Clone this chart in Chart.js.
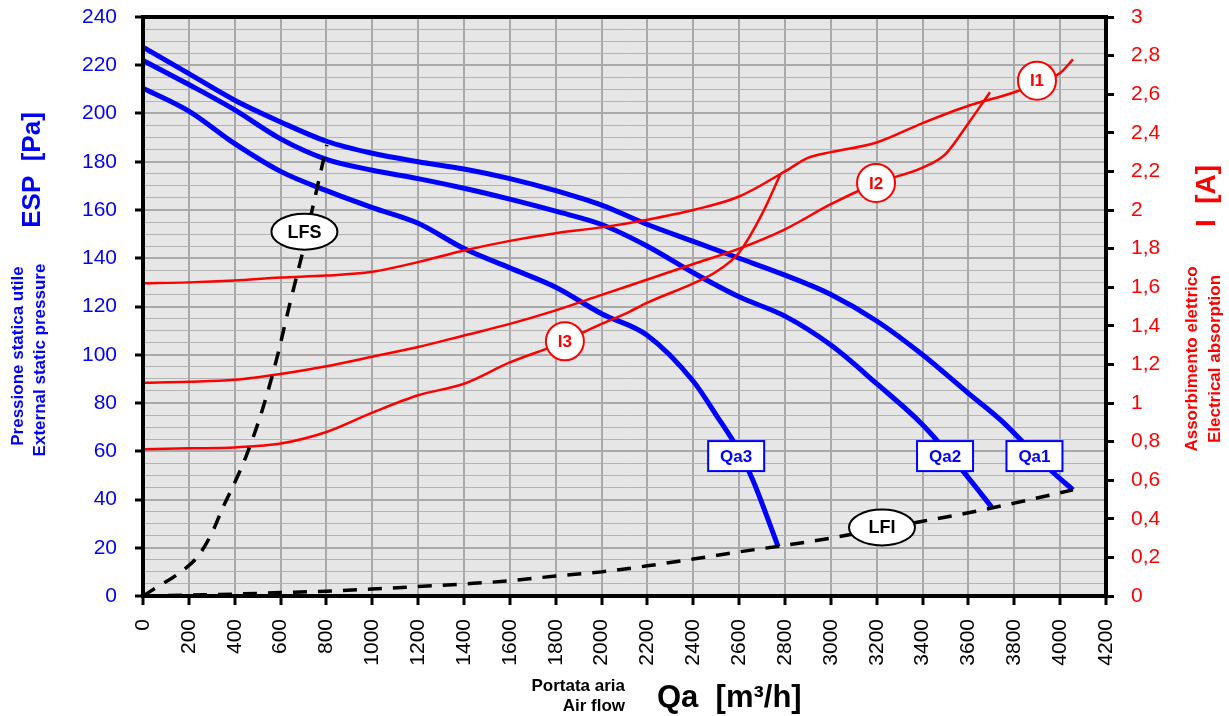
<!DOCTYPE html>
<html>
<head>
<meta charset="utf-8">
<script src="https://cdn.jsdelivr.net/npm/chart.js@4.4.1/dist/chart.umd.min.js"></script>
<style>
  html, body { margin: 0; padding: 0; background: #fff; }
  #wrap { width: 1229px; height: 716px; }
</style>
</head>
<body>
<div id="wrap"><canvas id="fanChart" width="1229" height="716"></canvas></div>
<script>
// Fan curves: air flow Qa [m3/h] vs static pressure ESP [Pa]
var qa1Flow = [0, 200, 400, 600, 800, 1000, 1200, 1400, 1600, 1800, 2000, 2200, 2400, 2600, 2800, 3000, 3200, 3400, 3600, 3740, 3960, 4056];
var qa1Esp  = [227.5, 216.5, 205.5, 196.5, 188.5, 183.5, 180, 177, 173, 168, 162, 154, 147, 140, 133, 125, 114, 100, 84, 73, 52, 44];

var qa2Flow = [0, 200, 400, 600, 800, 1000, 1200, 1400, 1600, 1800, 2000, 2200, 2400, 2600, 2800, 3000, 3200, 3400, 3600, 3703];
var qa2Esp  = [222, 212, 201.5, 189.5, 181, 176.5, 173, 169, 164.5, 159.5, 154, 145, 134, 124, 116, 104, 88, 71, 49, 36.6];

var qa3Flow = [0, 200, 400, 600, 800, 1000, 1200, 1400, 1600, 1800, 2000, 2200, 2400, 2500, 2600, 2660, 2770];
var qa3Esp  = [210.5, 201, 187.5, 176, 168, 161, 154.5, 144, 136, 128, 117, 108, 89, 75, 60, 48, 20.5];

// Electrical absorption I [A] for each speed
var i1Flow = [0, 200, 400, 600, 800, 1000, 1200, 1400, 1600, 1800, 2000, 2200, 2400, 2600, 2800, 2900, 3000, 3200, 3400, 3600, 3800, 4000, 4056];
var i1Amp  = [1.62, 1.625, 1.635, 1.65, 1.66, 1.68, 1.73, 1.79, 1.84, 1.88, 1.91, 1.95, 2.0, 2.07, 2.2, 2.27, 2.3, 2.35, 2.45, 2.54, 2.61, 2.71, 2.78];

var i2Flow = [0, 200, 400, 600, 800, 1000, 1200, 1400, 1600, 1800, 2000, 2200, 2400, 2600, 2800, 3000, 3200, 3400, 3500, 3600, 3694];
var i2Amp  = [1.105, 1.11, 1.12, 1.15, 1.19, 1.24, 1.29, 1.35, 1.41, 1.48, 1.56, 1.64, 1.72, 1.8, 1.9, 2.03, 2.14, 2.22, 2.29, 2.45, 2.61];

var i3Flow = [0, 200, 400, 600, 800, 1000, 1200, 1400, 1600, 1800, 2000, 2100, 2200, 2400, 2500, 2600, 2700, 2778];
var i3Amp  = [0.76, 0.765, 0.77, 0.79, 0.85, 0.95, 1.04, 1.1, 1.21, 1.3, 1.41, 1.46, 1.52, 1.62, 1.68, 1.78, 1.98, 2.18];

// Working limits (dashed)
var lfsFlow = [0, 50, 150, 240, 300, 350, 400, 450, 520, 585, 640, 700, 740, 802];
var lfsEsp  = [0, 3, 9, 16.5, 26, 37, 47, 58, 77, 99, 121, 144, 161, 187];
var lfiFlow = [0, 200, 400, 600, 800, 1000, 1200, 1400, 1600, 1800, 2000, 2200, 2400, 2600, 2800, 3000, 3200, 3400, 3600, 3800, 4056];
var lfiEsp  = [0, 0.4, 0.8, 1.4, 2, 2.9, 3.9, 5, 6.3, 8.3, 10, 12.5, 15.3, 18.3, 21, 24, 27.5, 31, 34.5, 38.5, 44];

// Curve tags
var speedTags = ['Qa1', 'Qa2', 'Qa3'];
var speedTagFlow = [3888, 3498, 2587];
var speedTagEsp = [58, 58, 58];
var ampTags = ['I1', 'I2', 'I3'];
var ampTagFlow = [3899, 3197, 1840];
var ampTagAmp = [2.67, 2.14, 1.32];
var limitTags = ['LFS', 'LFI'];
var limitTagFlow = [704, 3223];
var limitTagEsp = [151, 28.4];

var FONT = "'Liberation Sans', Arial, sans-serif";
var BLUE = '#0000ff';
var RED = '#ff0000';

function toPoints(xs, ys) {
  return xs.map(function (x, i) { return { x: x, y: ys[i] }; });
}

function fmtAmp(v) {
  return Number(v.toFixed(1)).toString().replace('.', ',');
}

// no extra padding from tick labels, the layout is fixed
function fixSize(w, h) {
  return function (s) {
    if (w) s.width = w;
    if (h) s.height = h;
    s.paddingTop = 0;
    s.paddingBottom = 0;
    s.paddingLeft = 0;
    s.paddingRight = 0;
  };
}

// gray plot background
var backgroundPlugin = {
  id: 'plotBackground',
  beforeDraw: function (chart) {
    var a = chart.chartArea, c = chart.ctx;
    c.save();
    c.fillStyle = '#e6e6e6';
    c.fillRect(a.left, a.top, a.right - a.left, a.bottom - a.top);
    c.restore();
  }
};

// black frame + tags on curves
var tagPlugin = {
  id: 'curveTags',
  afterDatasetsDraw: function (chart) {
    var c = chart.ctx, a = chart.chartArea;
    var sx = chart.scales.x, sy = chart.scales.y, sa = chart.scales.yA;
    c.save();
    c.strokeStyle = '#000';
    c.lineWidth = 4;
    c.strokeRect(a.left, a.top, a.right - a.left, a.bottom - a.top);

    c.textAlign = 'center';
    c.textBaseline = 'middle';

    // Qa boxes
    speedTags.forEach(function (t, i) {
      var px = sx.getPixelForValue(speedTagFlow[i]);
      var py = sy.getPixelForValue(speedTagEsp[i]);
      c.fillStyle = '#fff';
      c.fillRect(px - 28, py - 15, 56, 30);
      c.strokeStyle = BLUE;
      c.lineWidth = 2;
      c.strokeRect(px - 28, py - 15, 56, 30);
      c.fillStyle = BLUE;
      c.font = 'bold 17px ' + FONT;
      c.fillText(t, px, py + 1);
    });

    // I circles
    ampTags.forEach(function (t, i) {
      var px = sx.getPixelForValue(ampTagFlow[i]);
      var py = sa.getPixelForValue(ampTagAmp[i]);
      c.beginPath();
      c.arc(px, py, 19, 0, Math.PI * 2);
      c.fillStyle = '#fff';
      c.fill();
      c.strokeStyle = RED;
      c.lineWidth = 2;
      c.stroke();
      c.fillStyle = RED;
      c.font = 'bold 17px ' + FONT;
      c.fillText(t, px, py + 1);
    });

    // limit ellipses
    limitTags.forEach(function (t, i) {
      var px = sx.getPixelForValue(limitTagFlow[i]);
      var py = sy.getPixelForValue(limitTagEsp[i]);
      c.beginPath();
      c.ellipse(px, py, 33, 18, 0, 0, Math.PI * 2);
      c.fillStyle = '#fff';
      c.fill();
      c.strokeStyle = '#000';
      c.lineWidth = 2;
      c.stroke();
      c.fillStyle = '#000';
      c.font = "bold 18px 'Liberation Sans Narrow', " + FONT;
      c.fillText(t, px, py + 1);
    });
    c.restore();
  }
};

function rotatedText(c, text, x, y, font, color) {
  c.save();
  c.translate(x, y);
  c.rotate(-Math.PI / 2);
  c.font = font;
  c.fillStyle = color;
  c.textAlign = 'center';
  c.textBaseline = 'middle';
  c.fillText(text, 0, 0);
  c.restore();
}

// axis titles
var titlePlugin = {
  id: 'axisTitles',
  afterDraw: function (chart) {
    var c = chart.ctx;
    rotatedText(c, 'ESP  [Pa]', 33, 170, 'bold 26px ' + FONT, BLUE);
    rotatedText(c, 'Pressione statica utile', 18, 356, 'bold 17px ' + FONT, BLUE);
    rotatedText(c, 'External static pressure', 40, 360, 'bold 17px ' + FONT, BLUE);

    rotatedText(c, 'I  [A]', 1207, 196, 'bold 28px ' + FONT, RED);
    rotatedText(c, 'Assorbimento elettrico', 1192, 359, 'bold 17px ' + FONT, RED);
    rotatedText(c, 'Electrical absorption', 1215, 359, 'bold 17px ' + FONT, RED);

    c.save();
    c.fillStyle = '#000';
    c.textAlign = 'right';
    c.textBaseline = 'middle';
    c.font = 'bold 17px ' + FONT;
    c.fillText('Portata aria', 625, 686);
    c.fillText('Air flow', 625, 706);
    c.textAlign = 'left';
    c.font = 'bold 31px ' + FONT;
    c.fillText('Qa  [m\u00b3/h]', 657, 698);
    c.restore();
  }
};

var ctx = document.getElementById('fanChart').getContext('2d');

var chart = new Chart(ctx, {
  type: 'line',
  data: {
    datasets: [
      { label: 'LFS', data: toPoints(lfsFlow, lfsEsp), yAxisID: 'y', borderColor: '#000', borderWidth: 3.5, borderDash: [14, 11], order: 0 },
      { label: 'LFI', data: toPoints(lfiFlow, lfiEsp), yAxisID: 'y', borderColor: '#000', borderWidth: 3.5, borderDash: [14, 11], order: 0 },
      { label: 'I1', data: toPoints(i1Flow, i1Amp), yAxisID: 'yA', borderColor: RED, borderWidth: 2.5, order: 1 },
      { label: 'I2', data: toPoints(i2Flow, i2Amp), yAxisID: 'yA', borderColor: RED, borderWidth: 2.5, order: 1 },
      { label: 'I3', data: toPoints(i3Flow, i3Amp), yAxisID: 'yA', borderColor: RED, borderWidth: 2.5, order: 1 },
      { label: 'Qa1', data: toPoints(qa1Flow, qa1Esp), yAxisID: 'y', borderColor: BLUE, borderWidth: 5, order: 2 },
      { label: 'Qa2', data: toPoints(qa2Flow, qa2Esp), yAxisID: 'y', borderColor: BLUE, borderWidth: 5, order: 2 },
      { label: 'Qa3', data: toPoints(qa3Flow, qa3Esp), yAxisID: 'y', borderColor: BLUE, borderWidth: 5, order: 2 }
    ]
  },
  options: {
    responsive: false,
    animation: false,
    layout: { padding: { top: 17, left: 0, right: 0, bottom: 0 } },
    elements: {
      point: { radius: 0 },
      line: { cubicInterpolationMode: 'monotone', fill: false, borderCapStyle: 'butt' }
    },
    plugins: {
      legend: { display: false },
      tooltip: { enabled: false }
    },
    scales: {
      x: {
        type: 'linear',
        min: 0,
        max: 4200,
        afterFit: fixSize(0, 120),
        border: { display: false },
        grid: {
          color: '#a9a9a9',
          lineWidth: 2,
          tickLength: 9,
          tickColor: '#000',
          tickWidth: 3
        },
        ticks: {
          stepSize: 200,
          maxTicksLimit: 100,
          autoSkip: false,
          minRotation: 90,
          maxRotation: 90,
          padding: 14,
          color: '#000',
          font: { family: "'Liberation Sans Narrow', " + FONT, size: 21 },
          callback: function (v) { return String(v); }
        }
      },
      y: {
        position: 'left',
        min: 0,
        max: 240,
        afterFit: fixSize(143, 0),
        border: { display: false },
        grid: {
          color: function (c) { return c.tick && c.tick.value % 20 === 0 ? '#a9a9a9' : '#b3b3b3'; },
          lineWidth: function (c) { return c.tick && c.tick.value % 20 === 0 ? 2 : 1; },
          tickLength: 8,
          tickColor: function (c) { return c.tick && c.tick.value % 20 === 0 ? '#000' : 'rgba(0,0,0,0)'; },
          tickWidth: 3
        },
        ticks: {
          stepSize: 5,
          maxTicksLimit: 100,
          autoSkip: false,
          padding: 18,
          color: BLUE,
          font: { family: FONT, size: 21 },
          callback: function (v) { return v % 20 === 0 ? String(v) : ''; }
        }
      },
      yA: {
        position: 'right',
        min: 0,
        max: 3,
        afterFit: fixSize(123, 0),
        border: { display: false },
        grid: {
          drawOnChartArea: false,
          tickLength: 8,
          tickColor: '#000',
          tickWidth: 3
        },
        ticks: {
          stepSize: 0.2,
          maxTicksLimit: 100,
          autoSkip: false,
          padding: 17,
          color: RED,
          font: { family: FONT, size: 21 },
          callback: function (v) { return fmtAmp(v); }
        }
      }
    }
  },
  plugins: [backgroundPlugin, tagPlugin, titlePlugin]
});
</script>
</body>
</html>
